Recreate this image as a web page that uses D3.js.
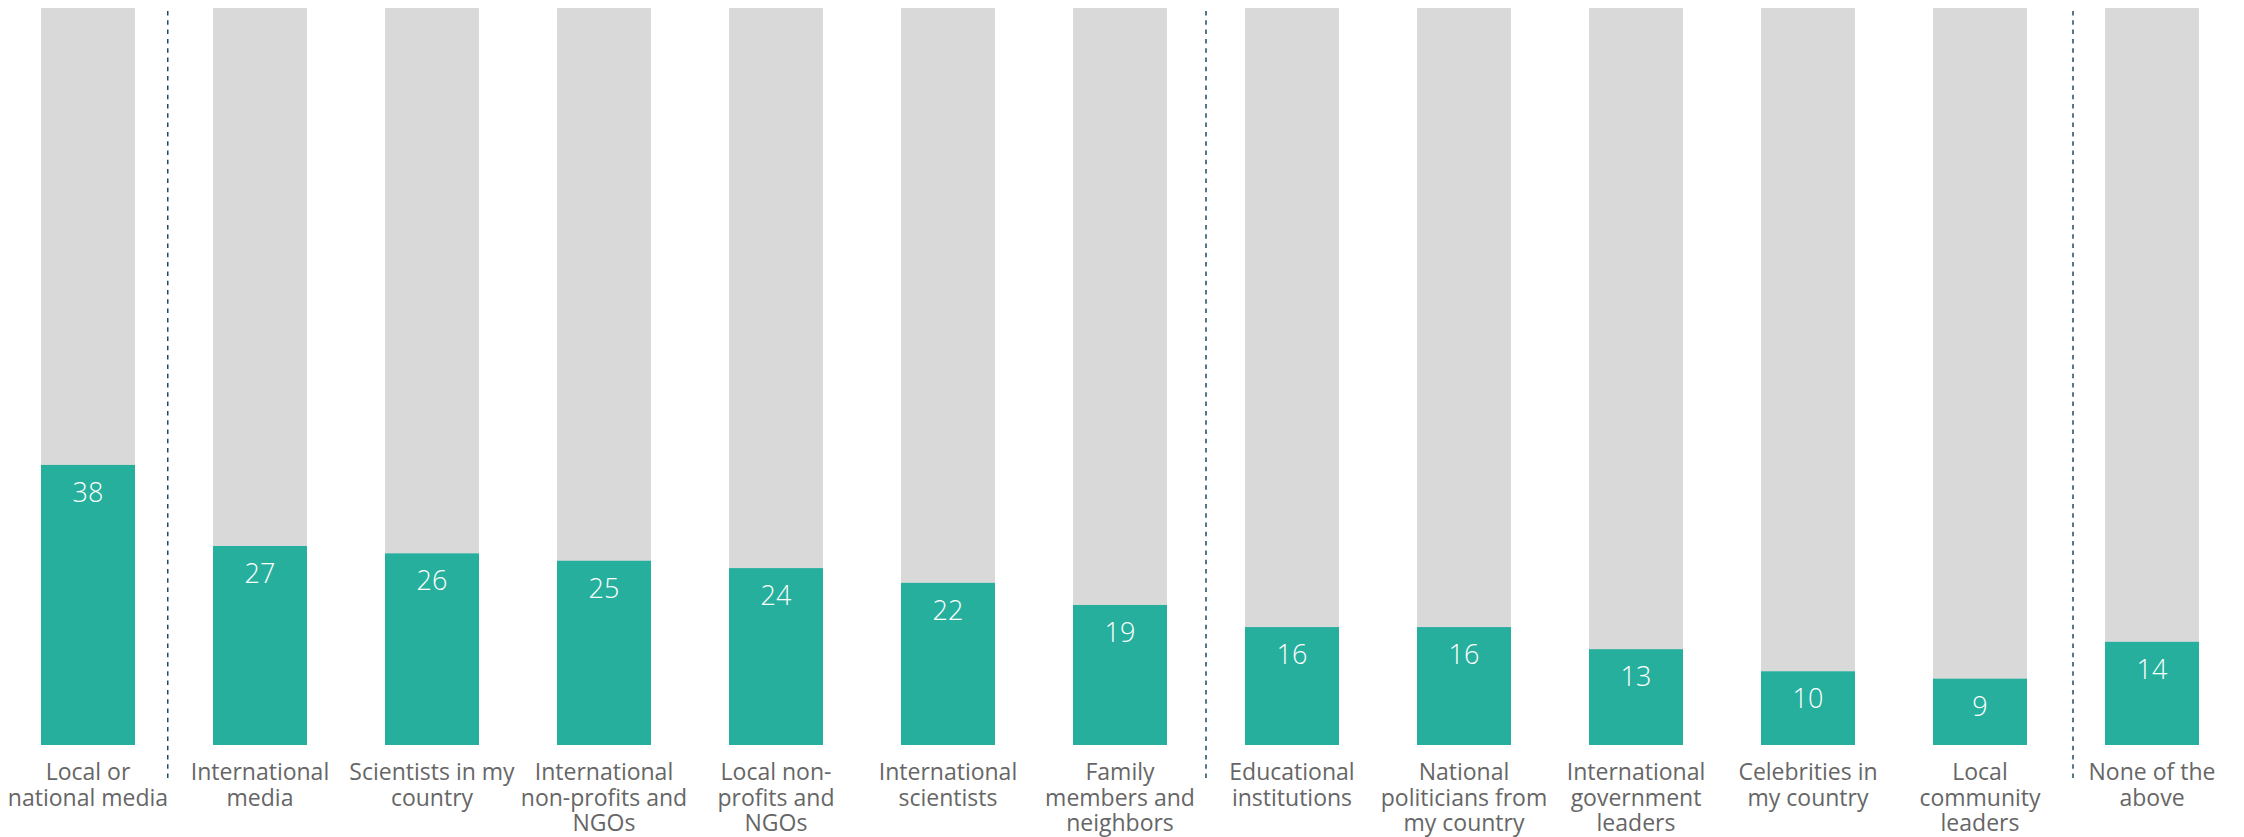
<!DOCTYPE html>
<html>
<head>
<meta charset="utf-8">
<script src="https://cdn.jsdelivr.net/npm/d3@7"></script>
<style>
  html, body { margin: 0; padding: 0; background: #ffffff; }
  svg { display: block; }
</style>
</head>
<body>
<svg id="chart" width="2244" height="837"></svg>
<script>
// Share of respondents (%) by source
const categories = [
  "Local or national media",
  "International media",
  "Scientists in my country",
  "International non-profits and NGOs",
  "Local non-profits and NGOs",
  "International scientists",
  "Family members and neighbors",
  "Educational institutions",
  "National politicians from my country",
  "International government leaders",
  "Celebrities in my country",
  "Local community leaders",
  "None of the above"
];
const values = [38, 27, 26, 25, 24, 22, 19, 16, 16, 13, 10, 9, 14];
const labelLines = [
  ["Local or", "national media"],
  ["International", "media"],
  ["Scientists in my", "country"],
  ["International", "non-profits and", "NGOs"],
  ["Local non-", "profits and", "NGOs"],
  ["International", "scientists"],
  ["Family", "members and", "neighbors"],
  ["Educational", "institutions"],
  ["National", "politicians from", "my country"],
  ["International", "government", "leaders"],
  ["Celebrities in", "my country"],
  ["Local", "community", "leaders"],
  ["None of the", "above"]
];
const maxValue = 100;
// group separators: dashed line after these category indices, with position within the gap
const separators = [
  { after: 0, frac: 0.42 },
  { after: 6, frac: 0.5 },
  { after: 11, frac: 0.59 }
];

const svg = d3.select("#chart");
const font = "'Open Sans', sans-serif";

const x = d3.scaleBand()
  .domain(categories)
  .range([-2, 2242])
  .paddingInner(0.4535)
  .paddingOuter(0.25);

const y = d3.scaleLinear()
  .domain([0, maxValue])
  .range([745, 8]);

const data = categories.map((c, i) => ({ cat: c, value: values[i], lines: labelLines[i] }));

// background (100%) bars
svg.append("g").selectAll("rect")
  .data(data)
  .join("rect")
  .attr("x", d => x(d.cat))
  .attr("y", y(maxValue))
  .attr("width", x.bandwidth())
  .attr("height", y(0) - y(maxValue))
  .attr("fill", "#d9d9d9");

// value bars
svg.append("g").selectAll("rect")
  .data(data)
  .join("rect")
  .attr("x", d => x(d.cat))
  .attr("y", d => y(d.value))
  .attr("width", x.bandwidth())
  .attr("height", d => y(0) - y(d.value))
  .attr("fill", "#26af9d");

// value labels
svg.append("g").selectAll("text")
  .data(data)
  .join("text")
  .attr("x", d => x(d.cat) + x.bandwidth() / 2)
  .attr("y", d => y(d.value) + 37)
  .attr("text-anchor", "middle")
  .attr("font-family", font)
  .attr("font-weight", 300)
  .attr("font-size", 27)
  .attr("fill", "#ffffff")
  .text(d => d.value);

// category labels, one tspan per line
const labels = svg.append("g").selectAll("text")
  .data(data)
  .join("text")
  .attr("text-anchor", "middle")
  .attr("font-family", font)
  .attr("font-size", 23)
  .attr("fill", "#666666");
labels.each(function(d) {
  const t = d3.select(this);
  d.lines.forEach((line, j) => {
    t.append("tspan")
      .attr("x", x(d.cat) + x.bandwidth() / 2)
      .attr("y", 780 + j * 25.5)
      .text(line);
  });
});

// dashed group separators
const step = x.step();
const gap = step - x.bandwidth();
svg.append("g").selectAll("line")
  .data(separators)
  .join("line")
  .attr("x1", s => x(categories[s.after]) + x.bandwidth() + gap * s.frac)
  .attr("x2", s => x(categories[s.after]) + x.bandwidth() + gap * s.frac)
  .attr("y1", 11)
  .attr("y2", 778)
  .attr("stroke", "#1f4a63")
  .attr("stroke-width", 1.5)
  .attr("stroke-dasharray", "4.5,4.8");
</script>
</body>
</html>
